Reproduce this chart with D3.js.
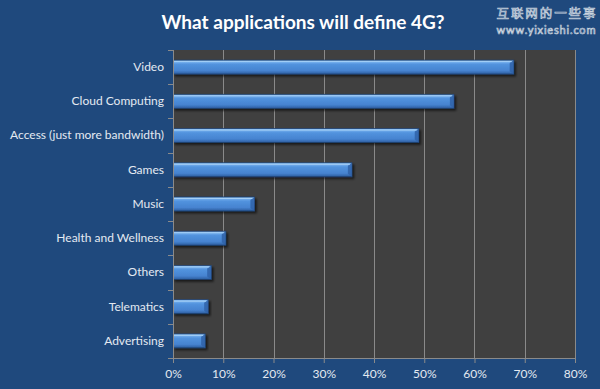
<!DOCTYPE html>
<html>
<head>
<meta charset="utf-8">
<script src="https://cdn.jsdelivr.net/npm/d3@7"></script>
<style>
  body { margin: 0; background: #1f497d; }
  svg { display: block; }
  text { font-family: Lato, "Open Sans", sans-serif; fill: #e4eaf2; }
</style>
</head>
<body>
<svg class="chart" width="600" height="389"></svg>
<script>
var categories = ["Video", "Cloud Computing", "Access (just more bandwidth)", "Games",
                  "Music", "Health and Wellness", "Others", "Telematics", "Advertising"];
var values = [0.678, 0.559, 0.489, 0.356, 0.162, 0.105, 0.076, 0.070, 0.064];
var tickValues = [0, 0.1, 0.2, 0.3, 0.4, 0.5, 0.6, 0.7, 0.8];

(function() {
  var margin = {top: 50, right: 25, bottom: 31, left: 173};

  var svg = d3.select(".chart"),
      width = +svg.attr("width") - margin.left - margin.right,
      height = +svg.attr("height") - margin.top - margin.bottom;

  svg.append("rect")
    .attr("width", 600).attr("height", 389)
    .attr("fill", "#1f497d");

  // gradients for the bevelled bars
  var defs = svg.append("defs");
  var grad = defs.append("linearGradient")
    .attr("id", "barGrad")
    .attr("x1", 0).attr("y1", 0).attr("x2", 0).attr("y2", 1);
  grad.append("stop").attr("offset", "0%").attr("stop-color", "#8cc0f2");
  grad.append("stop").attr("offset", "18%").attr("stop-color", "#6aa6e8");
  grad.append("stop").attr("offset", "30%").attr("stop-color", "#5293de");
  grad.append("stop").attr("offset", "75%").attr("stop-color", "#4683d0");
  grad.append("stop").attr("offset", "100%").attr("stop-color", "#2c5c9e");

  var filter = defs.append("filter").attr("id", "shadow")
    .attr("x", "-5%").attr("y", "-30%").attr("width", "115%").attr("height", "180%");
  filter.append("feGaussianBlur").attr("in", "SourceAlpha").attr("stdDeviation", 1.2);
  filter.append("feOffset").attr("dx", 1.5).attr("dy", 2).attr("result", "off");
  filter.append("feComponentTransfer").append("feFuncA").attr("type", "linear").attr("slope", 0.6);
  var merge = filter.append("feMerge");
  merge.append("feMergeNode");
  merge.append("feMergeNode").attr("in", "SourceGraphic");

  var chart = svg.append("g")
    .attr("transform", "translate(" + margin.left + "," + margin.top + ")");

  var xScale = d3.scaleLinear()
    .domain([0, 0.8])
    .range([0, width]);

  var yScale = d3.scaleBand()
    .domain(categories)
    .range([0, height])
    .paddingInner(0.59)
    .paddingOuter(0.295);

  var band = d3.scaleBand()
    .domain(categories)
    .range([0, height]);

  // plot area
  chart.append("rect")
    .attr("width", width)
    .attr("height", height)
    .attr("fill", "#404040");

  // vertical gridlines
  chart.selectAll(".grid")
    .data(tickValues.slice(1))
    .enter().append("line")
    .attr("x1", function(d) { return Math.round(xScale(d)) + 0.5; })
    .attr("x2", function(d) { return Math.round(xScale(d)) + 0.5; })
    .attr("y1", 0)
    .attr("y2", height)
    .attr("stroke", "#8a8a8a")
    .attr("stroke-width", 1);

  var bar = chart.selectAll(".bar")
    .data(categories)
    .enter().append("g")
    .attr("transform", function(d) { return "translate(0," + yScale(d) + ")"; });

  var bh = yScale.bandwidth();

  bar.append("rect")
    .attr("x", 0)
    .attr("y", 0)
    .attr("width", function(d, i) { return xScale(values[i]); })
    .attr("height", bh)
    .attr("fill", "url(#barGrad)")
    .attr("stroke", "#1e3f6e")
    .attr("stroke-width", 0.8)
    .attr("filter", "url(#shadow)");

  // bevel on right end
  bar.append("path")
    .attr("d", function(d, i) {
      var x = xScale(values[i]);
      return "M" + (x - 4) + "," + 3 + "L" + x + "," + 0 + "L" + x + "," + bh +
             "L" + (x - 4) + "," + (bh - 3) + "Z";
    })
    .attr("fill", "#2f62a8")
    .attr("opacity", 0.85);

  // top highlight
  bar.append("line")
    .attr("x1", 1)
    .attr("x2", function(d, i) { return xScale(values[i]) - 2; })
    .attr("y1", 1.5)
    .attr("y2", 1.5)
    .attr("stroke", "#a6d0f6")
    .attr("stroke-width", 1);

  // Add the y Axis
  var yAxis = d3.axisLeft(band).tickSize(0).tickPadding(9);
  var gy = chart.append("g").call(yAxis);
  gy.select(".domain").remove();
  gy.selectAll("text")
    .style("font-size", "12px")
    .attr("fill", "#e4eaf2");

  // category separator ticks
  chart.selectAll(".ytick")
    .data(d3.range(categories.length + 1))
    .enter().append("line")
    .attr("x1", -5).attr("x2", 0)
    .attr("y1", function(d) { return Math.round(d * band.step()) + 0.5; })
    .attr("y2", function(d) { return Math.round(d * band.step()) + 0.5; })
    .attr("stroke", "#8a8a8a");

  chart.append("line")
    .attr("x1", 0.5).attr("x2", 0.5)
    .attr("y1", 0).attr("y2", height)
    .attr("stroke", "#8a8a8a");

  // Add the x Axis
  var xAxis = d3.axisBottom(xScale)
    .tickValues(tickValues)
    .tickFormat(d3.format(".0%"))
    .tickSize(5)
    .tickPadding(6);
  var gx = chart.append("g")
    .attr("transform", "translate(0," + height + ")")
    .call(xAxis);
  gx.select(".domain").attr("stroke", "#8a8a8a");
  gx.selectAll(".tick line").attr("stroke", "#8a8a8a");
  gx.selectAll("text")
    .style("font-size", "12px")
    .attr("fill", "#e4eaf2");

  // title
  svg.append("text")
    .attr("x", 303)
    .attr("y", 29)
    .attr("text-anchor", "middle")
    .style("font-size", "19px")
    .style("font-weight", "bold")
    .style("fill", "#ffffff")
    .text("What applications will define 4G?");

  // watermark
  svg.append("text")
    .attr("x", 546)
    .attr("y", 18)
    .attr("text-anchor", "middle")
    .style("font-family", "'Noto Sans CJK SC', sans-serif")
    .style("font-size", "12.5px")
    .attr("textLength", 99)
    .style("fill", "none")
    .attr("stroke", "#c9d3df")
    .attr("stroke-width", 0.7)
    .text("互联网的一些事");
  svg.append("text")
    .attr("x", 546)
    .attr("y", 34)
    .attr("text-anchor", "middle")
    .style("font-size", "11px")
    .attr("textLength", 99)
    .style("fill", "none")
    .attr("stroke", "#c9d3df")
    .attr("stroke-width", 0.7)
    .text("www.yixieshi.com");
})();
</script>
</body>
</html>
